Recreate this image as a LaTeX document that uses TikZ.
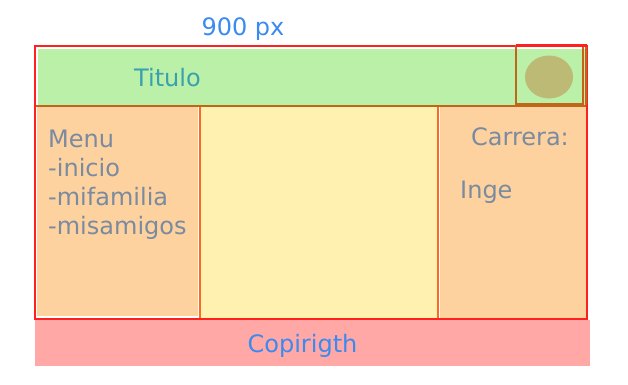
\documentclass[tikz,border=0pt]{standalone}
\usepackage{fontspec}
\setmainfont{DejaVu Sans}
\definecolor{hdrgreen}{RGB}{187,240,168}
\definecolor{peach}{RGB}{253,210,158}
\definecolor{paleyellow}{RGB}{255,241,176}
\definecolor{footpink}{RGB}{255,168,165}
\definecolor{framered}{RGB}{255,32,32}
\definecolor{edgeorange}{RGB}{255,106,32}
\definecolor{edgebrown}{RGB}{192,101,26}
\definecolor{olive}{RGB}{188,186,116}
\definecolor{tealtxt}{RGB}{58,160,176}
\definecolor{bluetxt}{RGB}{58,138,240}
\definecolor{greytxt}{RGB}{122,138,160}
\tikzset{
  label24/.style={inner sep=0pt, font=\fontsize{24}{29}\selectfont},
  menutxt/.style={label24, text=greytxt, anchor=base west},
}
\begin{document}
\begin{tikzpicture}[x=1pt,y=-1pt]
\useasboundingbox (0,0) rectangle (628,384);
% header band
\fill[hdrgreen] (38,49) rectangle (585,105);
% side columns
\fill[peach] (37,107) rectangle (198,316);
\fill[peach] (440,107) rectangle (586,318);
% centre column
\draw[edgeorange, line width=2pt, fill=paleyellow] (200,105.5) rectangle (438,319);
% header bottom edge
\draw[edgebrown, line width=2pt] (35,105.5) -- (587,105.5);
% footer
\fill[footpink] (35,320) rectangle (590,366);
% outer frame
\draw[framered, line width=2.2pt] (35,46) rectangle (587,319);
% icon box in the header
\draw[edgebrown, line width=2pt] (516,46) rectangle (583,104);
\draw[edgebrown, line width=2pt] (586,46) -- (586,105);
\draw[framered, line width=2.2pt] (516,45.5) -- (587,45.5);
\fill[olive] (549,77) ellipse [x radius=24, y radius=21.5];
% texts
\node[label24, text=bluetxt, anchor=base] (width) at (243,35) {900 px};
\node[label24, text=tealtxt, anchor=base] (title) at (167.5,86) {Titulo};
\node[menutxt] (m0) at (48,147) {Menu};
\node[menutxt] (m1) at (48,176) {-inicio};
\node[menutxt] (m2) at (48,205) {-mifamilia};
\node[menutxt] (m3) at (48,234) {-misamigos};
\node[label24, text=greytxt, anchor=base east] (career) at (569,145) {Carrera:};
\node[menutxt] (inge) at (460,198) {Inge};
\node[label24, text=bluetxt, anchor=base] (copy) at (302.5,352) {Copirigth};
\end{tikzpicture}
\end{document}
